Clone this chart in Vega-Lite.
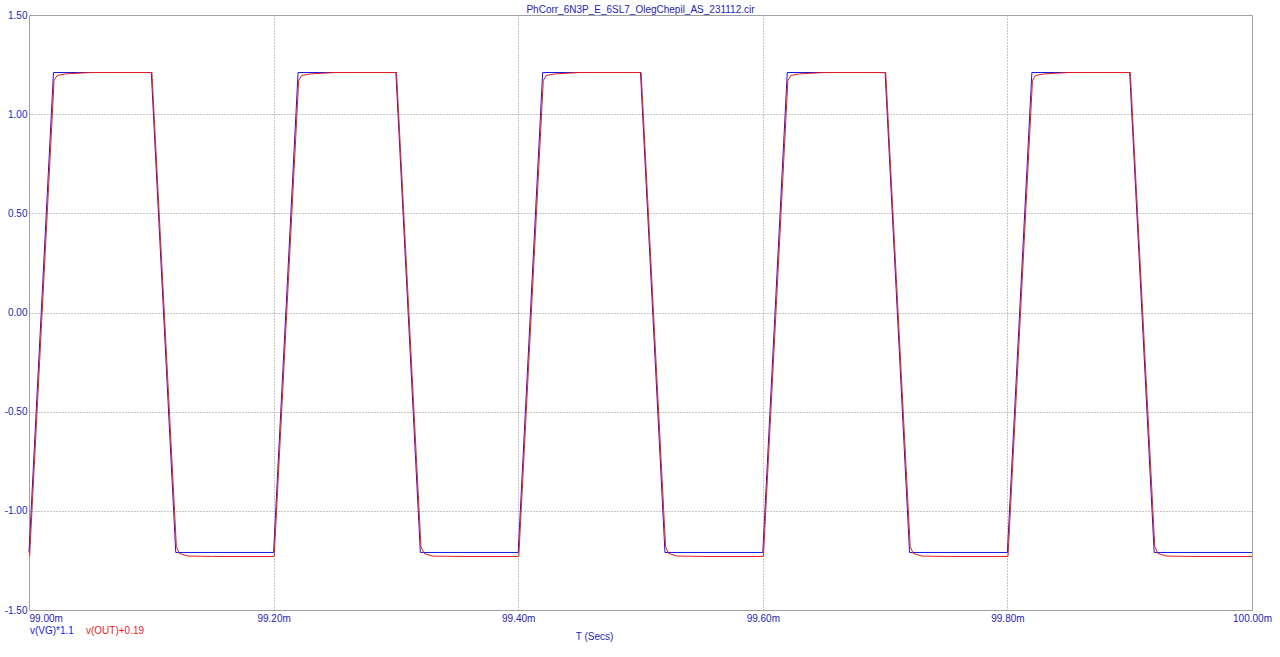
{
  "$schema": "https://vega.github.io/schema/vega-lite/v6.json",
  "autosize": "none",
  "width": 1223,
  "height": 595,
  "padding": {"left": 29, "top": 15, "right": 28, "bottom": 47},
  "background": "white",
  "title": {"text": "PhCorr_6N3P_E_6SL7_OlegChepil_AS_231112.cir", "fontSize": 10, "font": "Liberation Sans", "fontWeight": "normal", "color": "#2424b4", "offset": 2, "dy": 7},
  "datasets": {
    "wave": [
      {"t": 99.00, "v": -1.21, "s": "v(VG)*1.1"},
      {"t": 99.02, "v": 1.21, "s": "v(VG)*1.1"},
      {"t": 99.10, "v": 1.21, "s": "v(VG)*1.1"},
      {"t": 99.12, "v": -1.21, "s": "v(VG)*1.1"},
      {"t": 99.20, "v": -1.21, "s": "v(VG)*1.1"},
      {"t": 99.22, "v": 1.21, "s": "v(VG)*1.1"},
      {"t": 99.30, "v": 1.21, "s": "v(VG)*1.1"},
      {"t": 99.32, "v": -1.21, "s": "v(VG)*1.1"},
      {"t": 99.40, "v": -1.21, "s": "v(VG)*1.1"},
      {"t": 99.42, "v": 1.21, "s": "v(VG)*1.1"},
      {"t": 99.50, "v": 1.21, "s": "v(VG)*1.1"},
      {"t": 99.52, "v": -1.21, "s": "v(VG)*1.1"},
      {"t": 99.60, "v": -1.21, "s": "v(VG)*1.1"},
      {"t": 99.62, "v": 1.21, "s": "v(VG)*1.1"},
      {"t": 99.70, "v": 1.21, "s": "v(VG)*1.1"},
      {"t": 99.72, "v": -1.21, "s": "v(VG)*1.1"},
      {"t": 99.80, "v": -1.21, "s": "v(VG)*1.1"},
      {"t": 99.82, "v": 1.21, "s": "v(VG)*1.1"},
      {"t": 99.90, "v": 1.21, "s": "v(VG)*1.1"},
      {"t": 99.92, "v": -1.21, "s": "v(VG)*1.1"},
      {"t": 100.00, "v": -1.21, "s": "v(VG)*1.1"},

      {"t": 99.0005, "v": -1.23, "s": "v(OUT)+0.19"},
      {"t": 99.0205, "v": 1.17, "s": "v(OUT)+0.19"},
      {"t": 99.023, "v": 1.195, "s": "v(OUT)+0.19"},
      {"t": 99.03, "v": 1.203, "s": "v(OUT)+0.19"},
      {"t": 99.05, "v": 1.21, "s": "v(OUT)+0.19"},
      {"t": 99.1005, "v": 1.21, "s": "v(OUT)+0.19"},
      {"t": 99.1205, "v": -1.18, "s": "v(OUT)+0.19"},
      {"t": 99.123, "v": -1.215, "s": "v(OUT)+0.19"},
      {"t": 99.13, "v": -1.228, "s": "v(OUT)+0.19"},
      {"t": 99.15, "v": -1.23, "s": "v(OUT)+0.19"},
      {"t": 99.2005, "v": -1.23, "s": "v(OUT)+0.19"},
      {"t": 99.2205, "v": 1.17, "s": "v(OUT)+0.19"},
      {"t": 99.223, "v": 1.195, "s": "v(OUT)+0.19"},
      {"t": 99.23, "v": 1.203, "s": "v(OUT)+0.19"},
      {"t": 99.25, "v": 1.21, "s": "v(OUT)+0.19"},
      {"t": 99.3005, "v": 1.21, "s": "v(OUT)+0.19"},
      {"t": 99.3205, "v": -1.18, "s": "v(OUT)+0.19"},
      {"t": 99.323, "v": -1.215, "s": "v(OUT)+0.19"},
      {"t": 99.33, "v": -1.228, "s": "v(OUT)+0.19"},
      {"t": 99.35, "v": -1.23, "s": "v(OUT)+0.19"},
      {"t": 99.4005, "v": -1.23, "s": "v(OUT)+0.19"},
      {"t": 99.4205, "v": 1.17, "s": "v(OUT)+0.19"},
      {"t": 99.423, "v": 1.195, "s": "v(OUT)+0.19"},
      {"t": 99.43, "v": 1.203, "s": "v(OUT)+0.19"},
      {"t": 99.45, "v": 1.21, "s": "v(OUT)+0.19"},
      {"t": 99.5005, "v": 1.21, "s": "v(OUT)+0.19"},
      {"t": 99.5205, "v": -1.18, "s": "v(OUT)+0.19"},
      {"t": 99.523, "v": -1.215, "s": "v(OUT)+0.19"},
      {"t": 99.53, "v": -1.228, "s": "v(OUT)+0.19"},
      {"t": 99.55, "v": -1.23, "s": "v(OUT)+0.19"},
      {"t": 99.6005, "v": -1.23, "s": "v(OUT)+0.19"},
      {"t": 99.6205, "v": 1.17, "s": "v(OUT)+0.19"},
      {"t": 99.623, "v": 1.195, "s": "v(OUT)+0.19"},
      {"t": 99.63, "v": 1.203, "s": "v(OUT)+0.19"},
      {"t": 99.65, "v": 1.21, "s": "v(OUT)+0.19"},
      {"t": 99.7005, "v": 1.21, "s": "v(OUT)+0.19"},
      {"t": 99.7205, "v": -1.18, "s": "v(OUT)+0.19"},
      {"t": 99.723, "v": -1.215, "s": "v(OUT)+0.19"},
      {"t": 99.73, "v": -1.228, "s": "v(OUT)+0.19"},
      {"t": 99.75, "v": -1.23, "s": "v(OUT)+0.19"},
      {"t": 99.8005, "v": -1.23, "s": "v(OUT)+0.19"},
      {"t": 99.8205, "v": 1.17, "s": "v(OUT)+0.19"},
      {"t": 99.823, "v": 1.195, "s": "v(OUT)+0.19"},
      {"t": 99.83, "v": 1.203, "s": "v(OUT)+0.19"},
      {"t": 99.85, "v": 1.21, "s": "v(OUT)+0.19"},
      {"t": 99.9005, "v": 1.21, "s": "v(OUT)+0.19"},
      {"t": 99.9205, "v": -1.18, "s": "v(OUT)+0.19"},
      {"t": 99.923, "v": -1.215, "s": "v(OUT)+0.19"},
      {"t": 99.93, "v": -1.228, "s": "v(OUT)+0.19"},
      {"t": 99.95, "v": -1.23, "s": "v(OUT)+0.19"},
      {"t": 100.00, "v": -1.23, "s": "v(OUT)+0.19"}
    ]
  },
  "data": {"name": "wave"},
  "encoding": {
    "x": {
      "field": "t", "type": "quantitative",
      "scale": {"domain": [99, 100], "nice": false, "zero": false},
      "axis": {
        "values": [99, 99.2, 99.4, 99.6, 99.8, 100],
        "labelExpr": "format(datum.value, '.2f') + 'm'",
        "labelAlign": {"condition": {"test": "datum.value <= 99.001", "value": "left"}, "value": "center"},
        "labelPadding": 3,
        "title": "T (Secs)",
        "titleX": 565,
        "titlePadding": 8,
        "gridOpacity": {"condition": {"test": "datum.value <= 99.001 || datum.value >= 99.999", "value": 0}, "value": 1}
      }
    },
    "y": {
      "field": "v", "type": "quantitative",
      "scale": {"domain": [-1.5, 1.5], "nice": false},
      "axis": {
        "values": [-1.5, -1, -0.5, 0, 0.5, 1, 1.5],
        "labelExpr": "(datum.value < 0 ? '-' : '') + format(abs(datum.value), '.2f')",
        "labelPadding": 2,
        "title": null,
        "gridOpacity": {"condition": {"test": "abs(datum.value) > 1.49", "value": 0}, "value": 1}
      }
    },
    "color": {
      "field": "s", "type": "nominal",
      "scale": {"domain": ["v(VG)*1.1", "v(OUT)+0.19"], "range": ["#1818e0", "#e81c1c"]},
      "legend": {
        "orient": "none", "legendX": -9, "legendY": 611, "direction": "horizontal",
        "title": null, "symbolSize": 0, "symbolOpacity": 0, "symbolStrokeWidth": 0,
        "labelOffset": 0, "columnPadding": 2, "labelFontSize": 10, "labelFont": "Liberation Sans",
        "encode": {"labels": {"update": {"fill": {"scale": "color", "field": "value"}}}}
      }
    }
  },
  "layer": [
    {"transform": [{"filter": "datum.s == 'v(VG)*1.1'"}], "mark": {"type": "line", "strokeWidth": 1}},
    {"transform": [{"filter": "datum.s == 'v(OUT)+0.19'"}], "mark": {"type": "line", "strokeWidth": 1}}
  ],
  "config": {
    "view": {"stroke": "#a0a0a0", "strokeWidth": 1},
    "axis": {
      "domain": false, "ticks": false,
      "labelFont": "Liberation Sans", "labelFontSize": 10, "labelColor": "#2424b4",
      "titleFont": "Liberation Sans", "titleFontSize": 10, "titleFontWeight": "normal", "titleColor": "#2424b4",
      "gridColor": "#8c8c8c", "gridDash": [1, 2], "gridWidth": 1
    }
  }
}
